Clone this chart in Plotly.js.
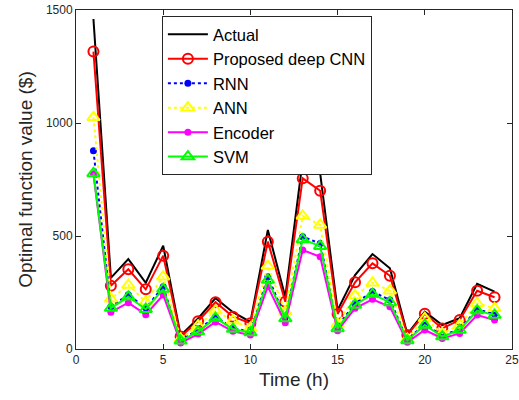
<!DOCTYPE html>
<html>
<head>
<meta charset="utf-8">
<script src="https://cdn.plot.ly/plotly-3.0.1.min.js"></script>
<style>html,body{margin:0;padding:0;background:#fff;}#chart{width:519px;height:400px;}</style>
</head>
<body>
<div id="chart"></div>
<script>
const hours = [1,2,3,4,5,6,7,8,9,10,11,12,13,14,15,16,17,18,19,20,21,22,23,24];
const actual   = [1460, 315, 398, 293, 457, 60, 135, 225, 163, 120, 527, 230, 836, 777, 172, 327, 420, 357, 66, 165, 106, 136, 288, 254];
const proposed = [1316, 280, 353, 264, 413, 55, 123, 207, 143, 114, 475, 209, 755, 700, 155, 295, 379, 324, 62, 156, 91, 128, 258, 229];
const rnn      = [877, 188, 240, 182, 275, 40, 85, 143, 92, 77, 320, 140, 497, 467, 100, 202, 254, 217, 42, 110, 60, 88, 175, 155];
const ann      = [1025, 222, 283, 209, 320, 45, 103, 170, 125, 93, 367, 165, 589, 549, 111, 236, 293, 258, 45, 136, 69, 106, 202, 180];
const encoder  = [775, 163, 205, 152, 239, 27, 66, 120, 78, 62, 276, 116, 438, 408, 81, 180, 220, 187, 30, 84, 47, 69, 150, 128];
const svm      = [777, 181, 231, 176, 265, 36, 77, 137, 88, 73, 305, 135, 485, 455, 91, 195, 243, 206, 38, 106, 55, 84, 170, 150];
const xTicks = [0,5,10,15,20,25];
const yTicks = [0,500,1000,1500];

const traces = [
  {x: hours, y: actual, name: 'Actual', mode: 'lines', line: {color: '#000000', width: 2}},
  {x: hours, y: proposed, name: 'Proposed deep CNN', mode: 'lines+markers', line: {color: '#ff0000', width: 2},
   marker: {symbol: 'circle-open', size: 10, color: '#ff0000', line: {width: 2}}},
  {x: hours, y: rnn, name: 'RNN', mode: 'lines+markers', line: {color: '#0000ff', width: 2, dash: 'dot'},
   marker: {symbol: 'circle', size: 7, color: '#0000ff'}},
  {x: hours, y: ann, name: 'ANN', mode: 'lines+markers', line: {color: '#ffff00', width: 2, dash: 'dot'},
   marker: {symbol: 'triangle-up-open', size: 11, color: '#ffff00', line: {width: 2}}},
  {x: hours, y: encoder, name: 'Encoder', mode: 'lines+markers', line: {color: '#ff00ff', width: 2},
   marker: {symbol: 'circle', size: 7, color: '#ff00ff'}},
  {x: hours, y: svm, name: 'SVM', mode: 'lines+markers', line: {color: '#00ff00', width: 2},
   marker: {symbol: 'triangle-up-open', size: 11, color: '#00ff00', line: {width: 2}}}
];

const axisCommon = {
  showgrid: false, zeroline: false, showline: true, mirror: 'ticks',
  linecolor: '#262626', linewidth: 1, ticks: 'inside', ticklen: 5, tickcolor: '#262626',
  tickfont: {family: 'Liberation Sans, Arial, sans-serif', size: 12, color: '#262626'}
};

const layout = {
  width: 519, height: 400,
  margin: {l: 76, r: 7, t: 10, b: 51},
  paper_bgcolor: '#ffffff', plot_bgcolor: '#ffffff',
  showlegend: true,
  xaxis: Object.assign({}, axisCommon, {
    range: [0, 25], tickvals: xTicks, ticktext: xTicks.map(String),
    title: {text: 'Time (h)', font: {family: 'Liberation Sans, Arial, sans-serif', size: 19, color: '#262626'}, standoff: 6}
  }),
  yaxis: Object.assign({}, axisCommon, {
    range: [0, 1500], tickvals: yTicks, ticktext: yTicks.map(String),
    title: {text: 'Optimal function value ($)', font: {family: 'Liberation Sans, Arial, sans-serif', size: 19, color: '#262626'}, standoff: 8}
  }),
  legend: {
    x: 0.197, y: 0.982, xanchor: 'left', yanchor: 'top',
    bgcolor: '#ffffff', bordercolor: '#262626', borderwidth: 1,
    font: {family: 'Liberation Sans, Arial, sans-serif', size: 16.5, color: '#000000'},
    itemwidth: 40, tracegroupgap: 0
  }
};

Plotly.newPlot('chart', traces, layout, {displayModeBar: false, staticPlot: true});
</script>
</body>
</html>
